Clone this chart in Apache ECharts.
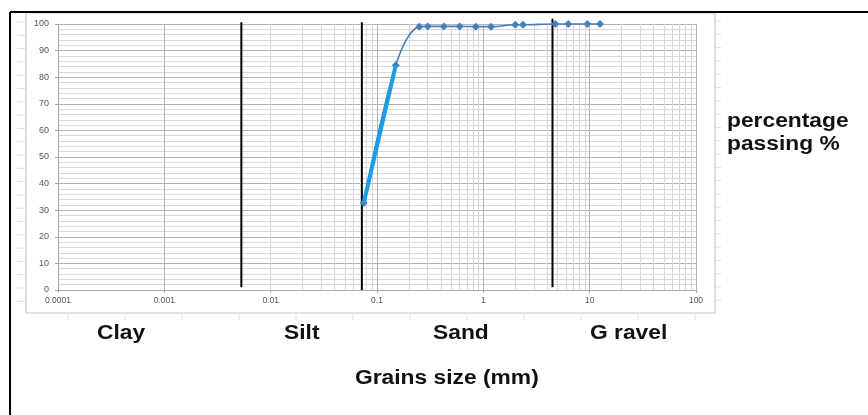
<!DOCTYPE html>
<html>
<head>
<meta charset="utf-8">
<script src="https://cdn.jsdelivr.net/npm/echarts@6/dist/echarts.min.js"></script>
<style>
html,body{margin:0;padding:0;background:#fff;}
#c{width:868px;height:415px;}
</style>
</head>
<body>
<div id="c"></div>
<script>
// Grain size (mm) and percentage passing
var grainSize = [0.075, 0.15, 0.25, 0.3, 0.425, 0.6, 0.85, 1.18, 2, 2.36, 4.75, 6.3, 9.5, 12.5];
var passing   = [32.7, 84.5, 99.0, 99.1, 99.1, 99.1, 99.0, 99.0, 99.7, 99.7, 100, 100, 100, 100];
// steep part drawn as a thick bright line
var steepSize = [0.075, 0.15];
var steepPass = [32.7, 84.5];
// soil class boundaries (vertical black lines)
var boundaries = [0.0053, 0.072, 4.47];
var boundaryTop = [100.7, 100.7, 102];
var boundaryBottom = [1, 0, 1];
var xTickLabels = ['0.0001', '0.001', '0.01', '0.1', '1', '10', '100'];
var yTicks = [0, 10, 20, 30, 40, 50, 60, 70, 80, 90, 100];
var classNames = ['Clay', 'Silt', 'Sand', 'G ravel'];

var chart = echarts.init(document.getElementById('c'));

// minor vertical gridlines 2..9 in each decade
var minorX = [];
for (var d = -4; d < 2; d++) {
  for (var m = 2; m <= 9; m++) minorX.push({xAxis: m * Math.pow(10, d)});
}

var series = [
  {
    type: 'line', data: [], silent: true,
    markLine: {
      silent: true, symbol: 'none', animation: false,
      label: {show: false},
      lineStyle: {color: '#d6d6d6', width: 1, type: 'solid'},
      data: minorX
    }
  }
];
boundaries.forEach(function (b, i) {
  series.push({
    type: 'line', data: [[b, boundaryBottom[i]], [b, boundaryTop[i]]],
    symbol: 'none', clip: false, silent: true,
    lineStyle: {color: '#000', width: 2}, z: 3
  });
});
series.push({
  type: 'line',
  data: grainSize.map(function (g, i) { return [g, passing[i]]; }),
  smooth: 0.35,
  symbol: 'diamond', symbolSize: 8,
  itemStyle: {color: '#4a7ebb'},
  lineStyle: {color: '#4a7ebb', width: 1.6},
  clip: false, z: 5
});
series.push({
  type: 'line',
  data: steepSize.map(function (g, i) { return [g, steepPass[i]]; }),
  symbol: 'none',
  lineStyle: {color: '#1a9de6', width: 4},
  z: 6
});

function label(txt, x, y) {
  return {
    type: 'text', x: x, y: y, scaleX: 1.14, scaleY: 1, silent: true,
    style: {text: txt, x: 0, y: 0, fontFamily: 'Liberation Sans, Arial', fontWeight: 'bold',
            fontSize: 20, fill: '#111', verticalAlign: 'top'}
  };
}
var graphics = [
  {type: 'rect', shape: {x: 26, y: 13, width: 689, height: 300}, style: {fill: 'none', stroke: '#c6c6c6', lineWidth: 1.2}, silent: true},
  {type: 'line', shape: {x1: 10, y1: 12, x2: 868, y2: 12}, style: {stroke: '#000', lineWidth: 2}},
  {type: 'line', shape: {x1: 10, y1: 12, x2: 10, y2: 415}, style: {stroke: '#000', lineWidth: 2}},
  label(classNames[0], 97, 323),
  label(classNames[1], 284, 323),
  label(classNames[2], 433, 323),
  label(classNames[3], 590, 323),
  label('Grains size (mm)', 355, 368),
  label('percentage', 727, 111),
  label('passing %', 727, 134)
];
// faint ghost ticks outside the chart area
for (var k = 0; k < 23; k++) {
  var yy = 22 + k * 13.3;
  if (yy > 312) break;
  graphics.push({type: 'line', shape: {x1: 17, y1: yy, x2: 26, y2: yy}, style: {stroke: '#dddddd', lineWidth: 1}});
  graphics.push({type: 'line', shape: {x1: 715, y1: yy - 1, x2: 721, y2: yy - 1}, style: {stroke: '#dddddd', lineWidth: 1}});
}
for (var j = 0; j < 12; j++) {
  var xx = 68 + j * 57;
  graphics.push({type: 'line', shape: {x1: xx, y1: 314, x2: xx, y2: 320}, style: {stroke: '#dddddd', lineWidth: 1}});
}

chart.setOption({
  animation: false,
  backgroundColor: '#fff',
  grid: {left: 58, right: 172, top: 24, bottom: 125},
  xAxis: {
    type: 'log', logBase: 10, min: 0.0001, max: 100,
    axisLine: {show: true, lineStyle: {color: '#a6a6a6'}},
    axisTick: {show: true, length: 3, lineStyle: {color: '#a6a6a6'}},
    axisLabel: {
      fontSize: 8.5, color: '#555', margin: 6, fontFamily: 'Liberation Sans, Arial',
      formatter: function (v) {
        var i = Math.round(Math.log(v) / Math.LN10) + 4;
        return xTickLabels[i] || '';
      }
    },
    splitLine: {show: true, lineStyle: {color: '#b3b3b3', width: 1}},
    minorTick: {show: false}
  },
  yAxis: {
    type: 'value', min: yTicks[0], max: yTicks[yTicks.length - 1], interval: 10,
    axisLine: {show: true, lineStyle: {color: '#a6a6a6'}},
    axisTick: {show: true, length: 3, lineStyle: {color: '#a6a6a6'}},
    axisLabel: {fontSize: 9, color: '#555', margin: 9, fontFamily: 'Liberation Sans, Arial'},
    splitLine: {show: true, lineStyle: {color: '#b3b3b3', width: 1}},
    minorTick: {show: false, splitNumber: 5},
    minorSplitLine: {show: true, lineStyle: {color: '#d8d8d8', width: 1}}
  },
  series: series,
  graphic: graphics
});
</script>
</body>
</html>
